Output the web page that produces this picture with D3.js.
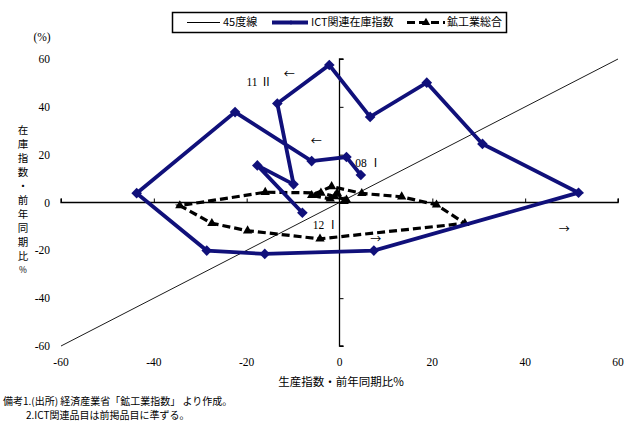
<!DOCTYPE html>
<html><head><meta charset="utf-8">
<script src="https://cdn.jsdelivr.net/npm/d3@7/dist/d3.min.js"></script>
<style>
html,body{margin:0;padding:0;background:#fff;}
svg{display:block;}
text{font-family:"Liberation Serif","Noto Sans CJK JP",serif;fill:#000;}
.jp{font-family:"Noto Sans CJK JP","Liberation Serif",sans-serif;}
</style></head>
<body>
<svg id="c" width="640" height="437"></svg>
<script>
// ---- data ----
const quarters = ["08I","08II","08III","08IV","09I","09II","09III","09IV","10I","10II","10III","10IV","11I","11II","11III","11IV","12I"];
// ICT関連在庫指数: x = 生産指数前年同期比, y = 在庫指数前年同期比
const ictX = [4.6, 1.5, -6.0, -22.5, -43.7, -28.6, -16.1, 7.4, 51.5, 30.8, 18.8, 6.6, -2.2, -13.4, -9.9, -17.7, -8.0];
const ictY = [11.5, 19.0, 17.3, 37.8, 3.9, -20.1, -21.5, -20.1, 4.1, 24.5, 50.1, 35.8, 57.5, 41.4, 7.6, 15.5, -4.3];
// 鉱工業総合
const mfgX = [1.5, -1.0, -4.0, -16.0, -34.4, -27.5, -19.8, -4.2, 27.0, 20.9, 13.4, 4.8, -1.7, -6.0, -2.0, -0.5, 1.0];
const mfgY = [1.1, 2.5, 4.0, 4.3, -1.3, -8.7, -11.8, -15.2, -8.7, -1.0, 2.4, 3.8, 6.7, 3.0, 1.5, 4.0, 0.5];
const diagLine = [-60, 60];
const xTicks = [-60, -40, -20, 0, 20, 40, 60];
const yTicks = [-60, -40, -20, 0, 20, 40, 60];
const seriesNames = ["45度線", "ICT関連在庫指数", "鉱工業総合"];
// annotations (data coordinates)
const labelText = ["11 Ⅱ", "08 Ⅰ", "12 Ⅰ"];
const labelX = [-17.3, 6.2, -3.0];
const labelY = [50.4, 16.4, -9.6];
const arrowText = ["←", "←", "→", "→"];
const arrowX = [-10.8, -5.0, 7.8, 48.4];
const arrowY = [53.8, 25.6, -15.5, -11.3];
const xTitle = "生産指数・前年同期比%";
const yTitle = "在庫指数・前年同期比%";
const notes = ["備考1.(出所) 経済産業省「鉱工業指数」 より作成。", "2.ICT関連品目は前掲品目に準ずる。"];

// ---- drawing ----
const svg = d3.select("#c");
const x = d3.scaleLinear().domain([-60, 60]).range([61, 618]);
const y = d3.scaleLinear().domain([-60, 60]).range([346, 59]);
const navy = "#10107a";

// 45 degree line
svg.append("line")
  .attr("x1", x(diagLine[0])).attr("y1", y(diagLine[0]))
  .attr("x2", x(diagLine[1])).attr("y2", y(diagLine[1]))
  .attr("stroke", "#000").attr("stroke-width", 0.9);

// x axis along y=0
const xAxis = d3.axisTop(x).tickValues(xTicks.filter(d => d !== 0)).tickSize(4).tickFormat("");
const gx = svg.append("g").attr("transform", `translate(0,${y(0)})`).call(xAxis);
gx.select(".domain").attr("d", `M${x(-60)},-4V0H${x(60)}V-4`).attr("stroke-width", 1.3);
gx.selectAll(".tick line").attr("stroke-width", 1);

// y axis along x=0
const yAxis = d3.axisRight(y).tickValues(yTicks.filter(d => d !== 0)).tickSize(4).tickFormat("");
const gy = svg.append("g").attr("transform", `translate(${x(0)},0)`).call(yAxis);
gy.select(".domain").attr("d", `M4,${y(60)}H0V${y(-60)}H4`).attr("stroke-width", 1.3);
gy.selectAll(".tick line").attr("stroke-width", 1);

// tick labels
svg.append("g").selectAll("text").data(yTicks).join("text")
  .attr("x", 50).attr("y", d => y(d)).attr("dy", "0.35em")
  .attr("text-anchor", "end").attr("font-size", 11.5).text(d => d);
svg.append("g").selectAll("text").data(xTicks).join("text")
  .attr("x", d => x(d)).attr("y", 362).attr("dy", "0.35em")
  .attr("text-anchor", "middle").attr("font-size", 11.5).text(d => d);

svg.append("text").attr("x", 42).attr("y", 37).attr("dy", "0.35em")
  .attr("text-anchor", "middle").attr("font-size", 11.5).text("(%)");

// axis titles
svg.append("text").attr("class", "jp").attr("x", 341).attr("y", 382).attr("dy", "0.35em")
  .attr("text-anchor", "middle").attr("font-size", 11.5).text(xTitle);
const yt = svg.append("text").attr("class", "jp").attr("text-anchor", "middle").attr("font-size", 10.5);
yt.selectAll("tspan").data(Array.from(yTitle)).join("tspan")
  .attr("x", 23).attr("y", (d, i) => 130 + i * 14).attr("dy", "0.35em")
  .attr("font-size", (d) => d === "%" ? 8.5 : 10.5)
  .text(d => d);

// notes
svg.append("text").attr("class", "jp").attr("x", 3).attr("y", 401).attr("dy", "0.35em")
  .attr("font-size", 10).text(notes[0]);
svg.append("text").attr("class", "jp").attr("x", 26).attr("y", 415).attr("dy", "0.35em")
  .attr("font-size", 10).text(notes[1]);

// series
const ict = quarters.map((q, i) => ({q, x: ictX[i], y: ictY[i]}));
const mfg = quarters.map((q, i) => ({q, x: mfgX[i], y: mfgY[i]}));
const line = d3.line().x(d => x(d.x)).y(d => y(d.y));

// manufacturing dashed
svg.append("path").datum(mfg).attr("d", line)
  .attr("fill", "none").attr("stroke", "#000").attr("stroke-width", 3.2)
  .attr("stroke-dasharray", "8,4");
const tri = d3.symbol().type(d3.symbolTriangle).size(38);
svg.append("g").selectAll("path").data(mfg).join("path")
  .attr("transform", d => `translate(${x(d.x)},${y(d.y)})`)
  .attr("d", tri).attr("fill", "#000");

svg.append("path").datum(ict).attr("d", line)
  .attr("fill", "none").attr("stroke", navy).attr("stroke-width", 3.8)
  .attr("stroke-linejoin", "miter");
const diamond = d3.symbol().type(d3.symbolDiamond2).size(72);
svg.append("g").selectAll("path").data(ict).join("path")
  .attr("transform", d => `translate(${x(d.x)},${y(d.y)})`)
  .attr("d", diamond).attr("fill", navy);

// annotations
svg.append("g").selectAll("text").data(labelText).join("text")
  .attr("x", (d, i) => x(labelX[i])).attr("y", (d, i) => y(labelY[i])).attr("dy", "0.35em")
  .attr("text-anchor", "middle").attr("font-size", 11.5).text(d => d);
svg.append("g").selectAll("text").data(arrowText).join("text")
  .attr("class", "jp")
  .attr("x", (d, i) => x(arrowX[i])).attr("y", (d, i) => y(arrowY[i])).attr("dy", "0.35em")
  .attr("text-anchor", "middle").attr("font-size", 11).attr("fill", "#222").text(d => d);

// legend
const lg = svg.append("g");
lg.append("rect").attr("x", 172.5).attr("y", 12.5).attr("width", 334).attr("height", 20)
  .attr("fill", "#fff").attr("stroke", "#000").attr("stroke-width", 1.5);
const ly = 22.5;
lg.append("line").attr("x1", 187).attr("x2", 220).attr("y1", ly).attr("y2", ly)
  .attr("stroke", "#000").attr("stroke-width", 1);
lg.append("line").attr("x1", 272).attr("x2", 308).attr("y1", ly).attr("y2", ly)
  .attr("stroke", navy).attr("stroke-width", 3.8);
lg.append("path").attr("transform", `translate(291,${ly})`)
  .attr("d", d3.symbol().type(d3.symbolDiamond2).size(14)).attr("fill", navy);
lg.append("line").attr("x1", 407).attr("x2", 445).attr("y1", ly).attr("y2", ly)
  .attr("stroke", "#000").attr("stroke-width", 3.2).attr("stroke-dasharray", "8,4");
lg.append("path").attr("transform", `translate(426,${ly})`)
  .attr("d", d3.symbol().type(d3.symbolTriangle).size(30)).attr("fill", "#000");
const legX = [223, 311, 447];
lg.selectAll("text.lt").data(seriesNames).join("text").attr("class", "lt jp")
  .attr("x", (d, i) => legX[i]).attr("y", ly).attr("dy", "0.35em")
  .attr("font-size", 11).text(d => d);
</script>
</body></html>
